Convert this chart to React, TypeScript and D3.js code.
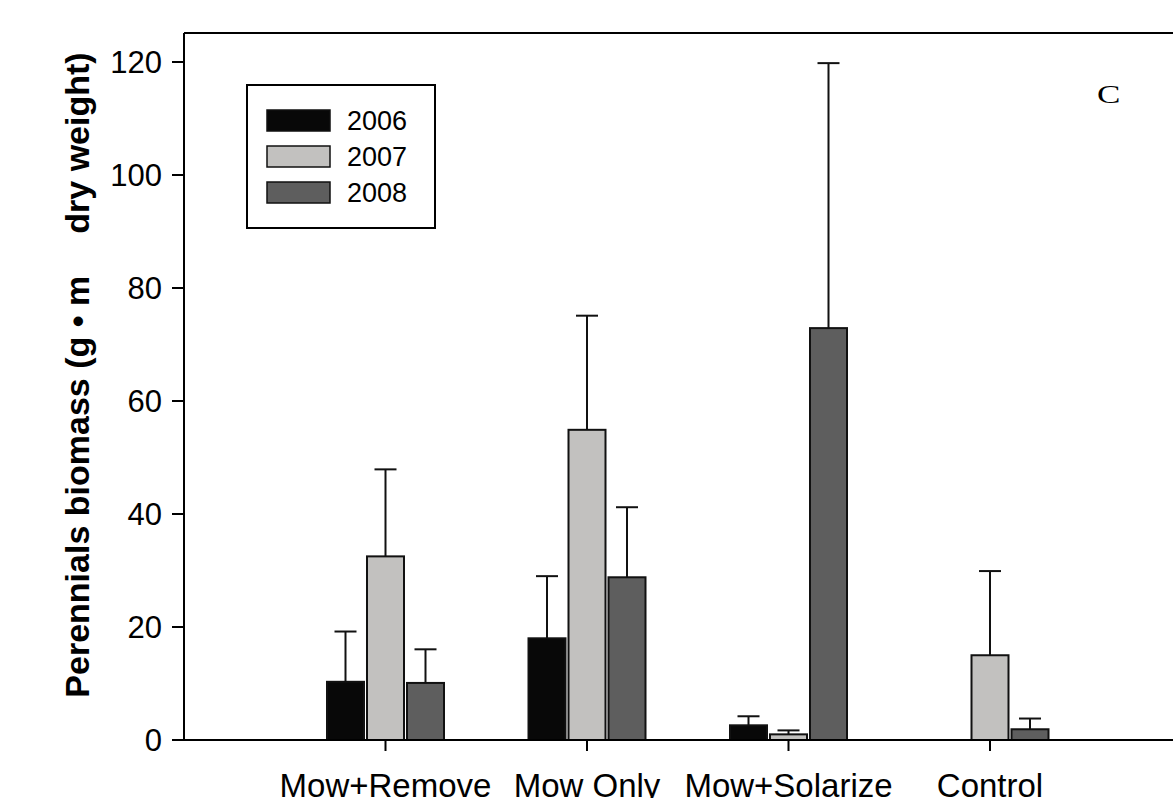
import React, { useRef, useEffect } from 'react';
import * as d3 from 'd3';

const categories = ['Mow+Remove', 'Mow Only', 'Mow+Solarize', 'Control'];
const years = ['2006', '2007', '2008'];
const mean2006 = [10.3, 18.0, 2.6, 0];
const se2006 = [8.9, 11.0, 1.6, 0];
const mean2007 = [32.5, 54.9, 1.0, 15.0];
const se2007 = [15.4, 20.2, 0.7, 14.9];
const mean2008 = [10.1, 28.8, 72.9, 1.9];
const se2008 = [5.95, 12.4, 46.9, 1.9];
const yTicks = [0, 20, 40, 60, 80, 100, 120];
const yearColors = ['#080808', '#c2c1bf', '#5e5e5e'];

function BiomassChart() {
  const ref = useRef<SVGSVGElement | null>(null);

  useEffect(() => {
    if (!ref.current) return;
    const svg = d3.select(ref.current);
    svg.selectAll('*').remove();

    const left = 184;
    const top = 33;
    const bottom = 740;
    const step = 201.5;
    const right = left + step * 5;

    const means = [mean2006, mean2007, mean2008];
    const ses = [se2006, se2007, se2008];
    const rows = categories.flatMap((c, i) =>
      years.map((yr, j) => ({ cat: c, year: yr, idx: j, value: means[j][i], se: ses[j][i] }))
    );

    const x = d3.scaleBand()
      .domain(categories)
      .range([left + step / 2, left + step * 4.5])
      .padding(0);

    const xInner = d3.scaleBand()
      .domain(years)
      .range([-58.5, 58.5])
      .paddingInner(0.075);

    const y = d3.scaleLinear()
      .domain([0, 120])
      .range([bottom, bottom - 120 * 5.65]);

    const font = 'Liberation Sans, Arial, sans-serif';

    // bars
    svg.append('g')
      .selectAll('rect')
      .data(rows.filter(d => d.value > 0))
      .enter().append('rect')
      .attr('x', d => x(d.cat)! + x.bandwidth() / 2 + xInner(d.year)!)
      .attr('y', d => y(d.value))
      .attr('width', xInner.bandwidth())
      .attr('height', d => bottom - y(d.value))
      .attr('fill', d => yearColors[d.idx])
      .attr('stroke', '#111')
      .attr('stroke-width', 2);

    // error bars (upper only)
    const eb = svg.append('g')
      .selectAll('g')
      .data(rows.filter(d => d.value > 0))
      .enter().append('g')
      .attr('stroke', '#111')
      .attr('stroke-width', 2);
    const cx = (d: any) => x(d.cat)! + x.bandwidth() / 2 + xInner(d.year)! + xInner.bandwidth() / 2;
    eb.append('line')
      .attr('x1', cx).attr('x2', cx)
      .attr('y1', d => y(d.value)).attr('y2', d => y(d.value + d.se));
    eb.append('line')
      .attr('x1', d => cx(d) - 11).attr('x2', d => cx(d) + 11)
      .attr('y1', d => y(d.value + d.se)).attr('y2', d => y(d.value + d.se));

    // frame
    const frame = svg.append('g').attr('stroke', '#000').attr('stroke-width', 2).attr('fill', 'none');
    frame.append('line').attr('x1', left).attr('x2', right).attr('y1', top).attr('y2', top);
    frame.append('line').attr('x1', left).attr('x2', left).attr('y1', top).attr('y2', bottom);
    frame.append('line').attr('x1', left).attr('x2', right).attr('y1', bottom).attr('y2', bottom);

    // y axis
    const yAxis = svg.append('g');
    yAxis.selectAll('line')
      .data(yTicks)
      .enter().append('line')
      .attr('x1', left - 12).attr('x2', left)
      .attr('y1', d => y(d)).attr('y2', d => y(d))
      .attr('stroke', '#000').attr('stroke-width', 2);
    yAxis.selectAll('text')
      .data(yTicks)
      .enter().append('text')
      .attr('x', left - 22)
      .attr('y', d => y(d))
      .attr('dy', '0.36em')
      .attr('text-anchor', 'end')
      .style('font-family', font)
      .style('font-size', '31px')
      .text(d => d);

    // x axis
    const xAxis = svg.append('g');
    xAxis.selectAll('line')
      .data(categories)
      .enter().append('line')
      .attr('x1', d => x(d)! + x.bandwidth() / 2).attr('x2', d => x(d)! + x.bandwidth() / 2)
      .attr('y1', bottom).attr('y2', bottom + 11)
      .attr('stroke', '#000').attr('stroke-width', 2);
    xAxis.selectAll('text')
      .data(categories)
      .enter().append('text')
      .attr('x', d => x(d)! + x.bandwidth() / 2)
      .attr('y', 797)
      .attr('text-anchor', 'middle')
      .style('font-family', font)
      .style('font-size', '33px')
      .text(d => d);

    // y title
    const title = svg.append('text')
      .attr('transform', 'translate(89, 375) rotate(-90)')
      .attr('text-anchor', 'middle')
      .style('font-family', font)
      .style('font-size', '34px')
      .style('font-weight', 'bold');
    title.append('tspan').text('Perennials biomass (g \u2022 m');
    title.append('tspan').attr('dx', 42).text('dry weight)');

    // legend
    const lg = svg.append('g');
    lg.append('rect')
      .attr('x', 247).attr('y', 85).attr('width', 188).attr('height', 143)
      .attr('fill', 'white').attr('stroke', '#000').attr('stroke-width', 2);
    const items = lg.selectAll('g.item')
      .data(years)
      .enter().append('g')
      .attr('class', 'item')
      .attr('transform', (_, i) => `translate(267, ${110 + i * 36})`);
    items.append('rect')
      .attr('width', 63).attr('height', 21)
      .attr('fill', (_, i) => yearColors[i])
      .attr('stroke', '#111').attr('stroke-width', 1.5);
    items.append('text')
      .attr('x', 80).attr('y', 20)
      .style('font-family', font)
      .style('font-size', '27px')
      .text(d => d);

    // panel letter
    svg.append('text')
      .attr('transform', 'translate(1097, 103) scale(1.35, 1)')
      .style('font-family', 'Liberation Serif, Times New Roman, serif')
      .style('font-size', '26px')
      .text('C');
  }, []);

  return (
    <svg ref={ref} width={1173} height={798}
      style={{ position: 'absolute', left: 0, top: 0, background: 'white' }} />
  );
}

export default function App() {
  return <BiomassChart />;
}
